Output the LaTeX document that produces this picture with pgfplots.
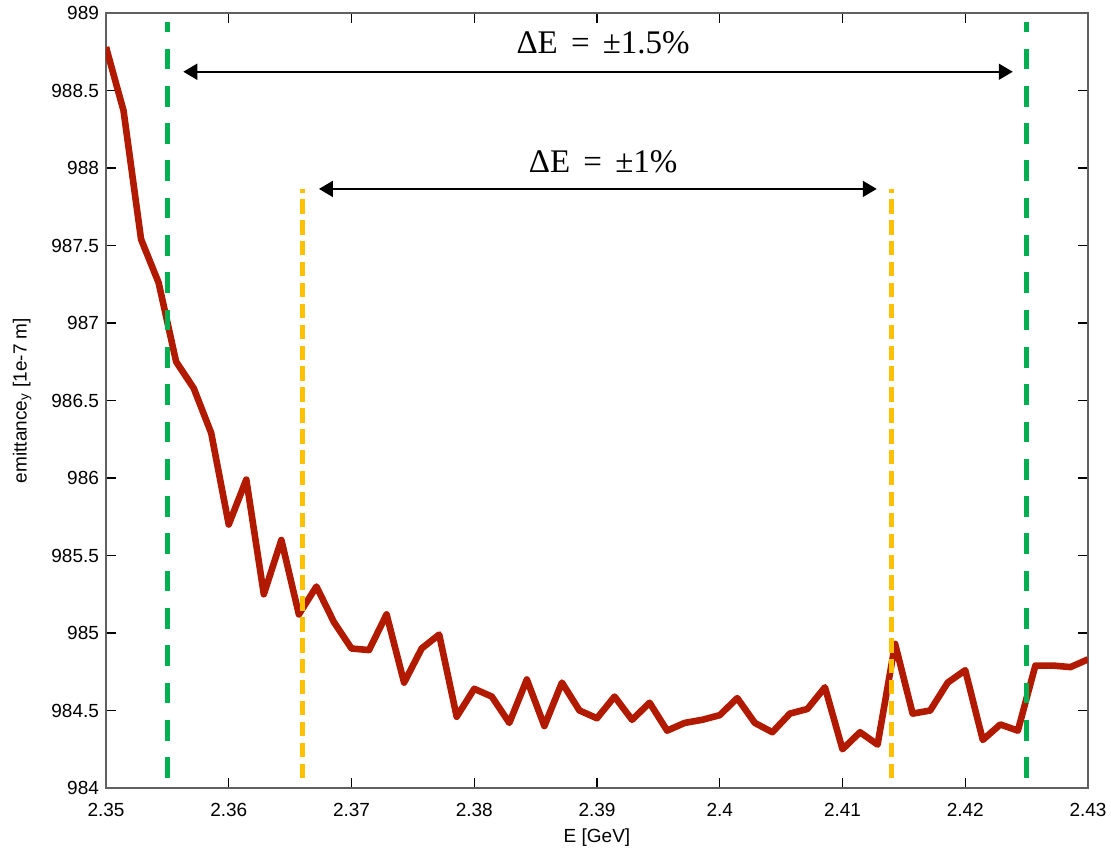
\documentclass[border=0pt]{standalone}
\usepackage{fontspec}
\setmainfont{Liberation Sans}
\newfontfamily\timesfont{Liberation Serif}
\usepackage{pgfplots}
\pgfplotsset{compat=1.18}
\usetikzlibrary{arrows.meta}
\definecolor{curvered}{RGB}{178,26,0}
\definecolor{lgreen}{RGB}{0,176,80}
\definecolor{lgold}{RGB}{255,192,0}
\begin{document}
\begin{tikzpicture}
\useasboundingbox (-53pt,-32pt) rectangle (502.5pt,394pt);
\begin{axis}[
  at={(0,0)}, anchor=south west,
  scale only axis, width=491pt, height=387.5pt,
  xmin=2.35, xmax=2.43, ymin=984, ymax=989,
  xtick={2.35,2.36,2.37,2.38,2.39,2.40,2.41,2.42,2.43},
  ytick={984,984.5,985,985.5,986,986.5,987,987.5,988,988.5,989},
  /pgf/number format/assume math mode=true,
  xticklabel style={/pgf/number format/fixed,/pgf/number format/precision=2,yshift=-4pt},
  yticklabel style={/pgf/number format/fixed,/pgf/number format/precision=1},
  ticklabel style={font=\fontsize{9.5}{11}\selectfont},
  label style={font=\fontsize{9.5}{11}\selectfont},
  tick align=inside, major tick length=5pt,
  axis line style={gray!75!black, line width=0.8pt},
  major tick style={black, line width=0.6pt},
  xlabel={E [GeV]},
  ylabel={emittance\textsubscript{y} [1e-7 m]},
  xlabel style={at={(rel axis cs:0.5,0)}, anchor=center, yshift=-25pt},
  ylabel style={at={(rel axis cs:0,0.5)}, anchor=center, rotate=0, yshift=42pt},
  clip=true,
]
\addplot[curvered, line width=3.3pt, line join=round] coordinates {
(2.350000,988.78) (2.351429,988.37) (2.352857,987.54) (2.354286,987.26)
(2.355714,986.75) (2.357143,986.58) (2.358571,986.29) (2.360000,985.70)
(2.361429,985.99) (2.362857,985.25) (2.364286,985.60) (2.365714,985.12)
(2.367143,985.30) (2.368571,985.07) (2.370000,984.90) (2.371429,984.89)
(2.372857,985.12) (2.374286,984.68) (2.375714,984.90) (2.377143,984.99)
(2.378571,984.46) (2.380000,984.64) (2.381429,984.59) (2.382857,984.42)
(2.384286,984.70) (2.385714,984.40) (2.387143,984.68) (2.388571,984.50)
(2.390000,984.45) (2.391429,984.59) (2.392857,984.44) (2.394286,984.55)
(2.395714,984.37) (2.397143,984.42) (2.398571,984.44) (2.400000,984.47)
(2.401429,984.58) (2.402857,984.42) (2.404286,984.36) (2.405714,984.48)
(2.407143,984.51) (2.408571,984.65) (2.410000,984.25) (2.411429,984.36)
(2.412857,984.28) (2.414286,984.93) (2.415714,984.48) (2.417143,984.50)
(2.418571,984.68) (2.420000,984.76) (2.421429,984.31) (2.422857,984.41)
(2.424286,984.37) (2.425714,984.79) (2.427143,984.79) (2.428571,984.78)
(2.430000,984.83)
};
\addplot[lgreen, line width=2.3pt, dash pattern=on 10.35pt off 8.3pt] coordinates {(2.355,984.065) (2.355,988.94)};
\addplot[lgreen, line width=2.3pt, dash pattern=on 10.35pt off 8.3pt] coordinates {(2.425,984.065) (2.425,988.94)};
\addplot[lgold, line width=2.3pt, dash pattern=on 7.2pt off 3.25pt] coordinates {(2.366,984.065) (2.366,987.865)};
\addplot[lgold, line width=2.3pt, dash pattern=on 7.2pt off 3.25pt] coordinates {(2.414,984.065) (2.414,987.865)};
\draw[black, line width=1pt, {Triangle[length=7pt,width=8pt]}-{Triangle[length=7pt,width=8pt]}]
  (axis cs:2.3563,988.621) -- (axis cs:2.42387,988.621);
\draw[black, line width=1pt, {Triangle[length=7pt,width=8pt]}-{Triangle[length=7pt,width=8pt]}]
  (axis cs:2.36735,987.865) -- (axis cs:2.41279,987.865);
\node[font=\timesfont\fontsize{16.5}{18}\selectfont, anchor=center] at (axis cs:2.3905,988.81) {ΔE\hspace{0.4em}=\hspace{0.4em}±1.5\%};
\node[font=\timesfont\fontsize{16.5}{18}\selectfont, anchor=center] at (axis cs:2.3905,988.04) {ΔE\hspace{0.4em}=\hspace{0.4em}±1\%};
\end{axis}
\end{tikzpicture}
\end{document}
